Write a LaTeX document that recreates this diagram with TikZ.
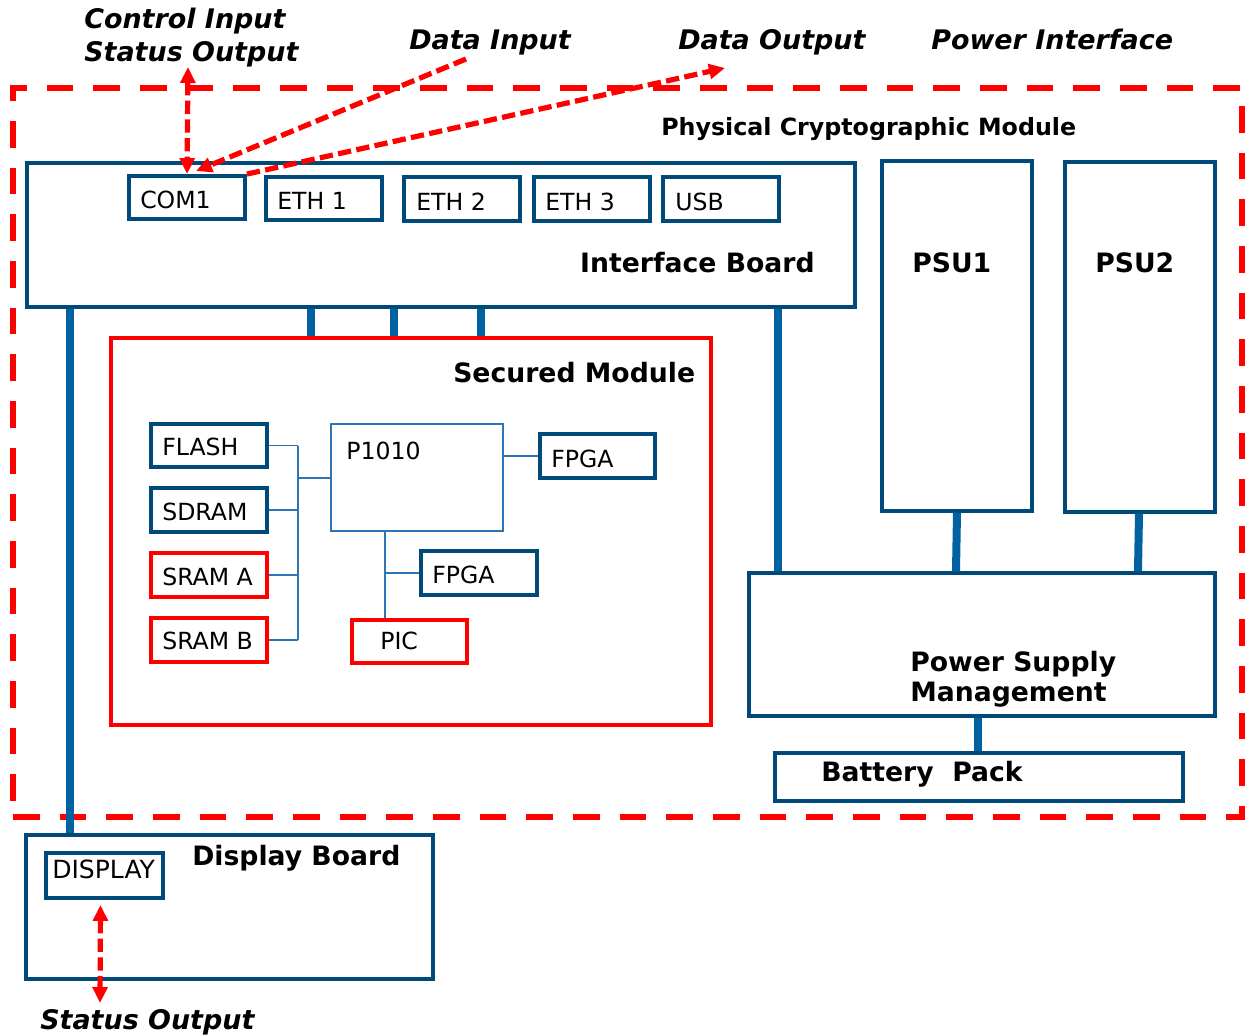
\documentclass[tikz,border=0pt]{standalone}
\usepackage{fontspec}
\setmainfont{DejaVu Sans}
\usetikzlibrary{fit,arrows.meta,calc}
\definecolor{dblue}{RGB}{0,74,122}
\definecolor{bblue}{RGB}{0,98,160}
\definecolor{tblue}{RGB}{46,117,182}
\definecolor{rred}{RGB}{255,0,0}
\begin{document}
\begin{tikzpicture}[x=0.75pt,y=-0.75pt,
  box/.style={draw=dblue, line width=2.9pt, inner sep=0pt, fill=white},
  redbox/.style={draw=rred, line width=2.9pt, inner sep=0pt, fill=white},
  thinbox/.style={draw=tblue, line width=0.9pt, inner sep=0pt, fill=white},
  bigbox/.style={draw=dblue, line width=2.6pt, inner sep=0pt, fill=white},
  bigred/.style={draw=rred, line width=2.4pt, inner sep=0pt, fill=white},
  lbl/.style={anchor=base west, inner sep=0pt, font=\fontsize{17.7}{21}\selectfont},
  blbl/.style={anchor=base west, inner sep=0pt, font=\fontsize{20}{23}\selectfont\bfseries},
  ilbl/.style={anchor=base west, inner sep=0pt, font=\fontsize{20.2}{23}\selectfont\bfseries\itshape},
  bus/.style={draw=bblue, line width=6pt},
  wire/.style={draw=tblue, line width=1.1pt},
  rtip/.tip={Triangle[length=12pt,width=11pt]},
  redarr/.style={draw=rred, line width=3.9pt, dash pattern=on 10pt off 4pt},
  outer/.style={draw=rred, line width=4.6pt, dash pattern=on 20pt off 15pt},
]
\useasboundingbox (0,0) rectangle (1250,1035);

% outer physical boundary
\node[outer, inner sep=0pt, fit={(13,88)(1242,817)}] (pcm) {};

% main boxes
\node[bigbox, fit={(27,163)(855,307)}] (ib) {};
\node[bigbox, fit={(882,161)(1032,511)}] (psu1) {};
\node[bigbox, fit={(1065,162)(1215,512)}] (psu2) {};
\node[bigred, fit={(111,338)(711,725)}] (sm) {};
\node[bigbox, fit={(749,573)(1215,716)}] (psm) {};
\node[bigbox, fit={(775,753)(1183,801)}] (bat) {};
\node[bigbox, fit={(26,835)(433,979)}] (db) {};

% bus bars
\draw[bus] (311,0 |- ib.south) -- (311,0 |- sm.north);
\draw[bus] (394,0 |- ib.south) -- (394,0 |- sm.north);
\draw[bus] (481,0 |- ib.south) -- (481,0 |- sm.north);
\draw[bus] (70,0 |- ib.south) -- (70,0 |- db.north);
\draw[bus] (778,0 |- ib.south) -- (778,0 |- psm.north);
\draw[bus] (957,0 |- psu1.south) -- (956,0 |- psm.north);
\draw[bus] (1139,0 |- psu2.south) -- (1138,0 |- psm.north);
\draw[bus] (978,0 |- psm.south) -- (978,0 |- bat.north);

% ports
\node[box, fit={(129,176)(245,219)}] (com1) {};
\node[box, fit={(266,177)(382,220)}] (eth1) {};
\node[box, fit={(404,177)(520,221)}] (eth2) {};
\node[box, fit={(534,177)(650,221)}] (eth3) {};
\node[box, fit={(663,177)(779,221)}] (usb) {};

% secured module contents
\node[box, fit={(151,424)(267,467)}] (flash) {};
\node[box, fit={(151,488)(267,532)}] (sdram) {};
\node[redbox, fit={(151,553)(267,597)}] (srama) {};
\node[redbox, fit={(151,618)(267,662)}] (sramb) {};
\node[thinbox, fit={(331,424)(503,531)}] (cpu) {};
\node[box, fit={(540,434)(655,478)}] (fpga1) {};
\node[box, fit={(421,551)(537,595)}] (fpga2) {};
\node[redbox, fit={(352,620)(467,663)}] (pic) {};
\node[box, fit={(46,853)(163,898)}] (disp) {};

% thin wires
\coordinate (busx) at (298,0);
\draw[wire] (flash.east) -- (busx |- flash.east);
\draw[wire] (sdram.east) -- (busx |- sdram.east);
\draw[wire] (srama.east) -- (busx |- srama.east);
\draw[wire] (sramb.east) -- (busx |- sramb.east);
\draw[wire] (busx |- flash.east) -- (busx |- sramb.east);
\draw[wire] (busx |- 0,478) -- (cpu.west |- 0,478);
\draw[wire] (cpu.east |- fpga1.west) -- (fpga1.west);
\draw[wire] (385,0 |- cpu.south) -- (385,0 |- pic.north);
\draw[wire] (385,0 |- fpga2.west) -- (fpga2.west);

% texts
\node[ilbl] (tci) at (84,28) {Control Input};
\node[ilbl] (tso) at (84,61) {Status Output};
\node[ilbl] (tdi) at (409,50) {Data Input};
\node[ilbl] (tdo) at (678,50) {Data Output};
\node[ilbl] (tpi) at (931,50) {Power Interface};
\node[anchor=base west, inner sep=0pt, font=\fontsize{17.8}{21}\selectfont\bfseries] (tpcm) at (661,135) {Physical Cryptographic Module};
\node[lbl] (tcom1) at (140,208) {COM1};
\node[lbl] (teth1) at (277,209) {ETH 1};
\node[lbl] (teth2) at (416,210) {ETH 2};
\node[lbl] (teth3) at (545,210) {ETH 3};
\node[lbl] (tusb) at (675,210) {USB};
\node[blbl, anchor=base east] (tib) at (815,272) {Interface Board};
\node[blbl] (tpsu1) at (912,272) {PSU1};
\node[blbl] (tpsu2) at (1095,272) {PSU2};
\node[blbl] (tsm) at (453,382) {Secured Module};
\node[lbl] (tflash) at (162,455) {FLASH};
\node[lbl] (tsdram) at (162,520) {SDRAM};
\node[lbl] (tsrama) at (162,585) {SRAM\ A};
\node[lbl] (tsramb) at (162,649) {SRAM\ B};
\node[lbl] (tcpu) at (346,459) {P1010};
\node[lbl] (tfpga1) at (551,467) {FPGA};
\node[lbl] (tfpga2) at (432,583) {FPGA};
\node[lbl] (tpic) at (380,649) {PIC};
\node[blbl] (tpsm1) at (910,671) {Power Supply};
\node[blbl] (tpsm2) at (910,701) {Management};
\node[blbl] (tbat) at (821,781) {Battery\ \ Pack};
\node[blbl] (tdb) at (192,865) {Display Board};
\node[anchor=base west, inner sep=0pt, font=\fontsize{18.8}{21}\selectfont] (tdisp) at (52,878) {DISPLAY};
\node[ilbl] (tso2) at (40,1029) {Status Output};

% red dashed arrows
\coordinate (ctop) at (188,67);
\coordinate (din) at (466,59);
\coordinate (dout) at (725,68);
\coordinate (sout) at (100,1003);
\draw[redarr, rtip-rtip] (ctop) -- (com1.north);
\draw[redarr, -rtip] (din) -- ($(com1.north)+(9,-3)$);
\draw[redarr, -rtip] (com1.north east) -- (dout);
\draw[redarr, rtip-rtip] ($(disp.south)+(-4,5)$) -- (sout);
\end{tikzpicture}
\end{document}
